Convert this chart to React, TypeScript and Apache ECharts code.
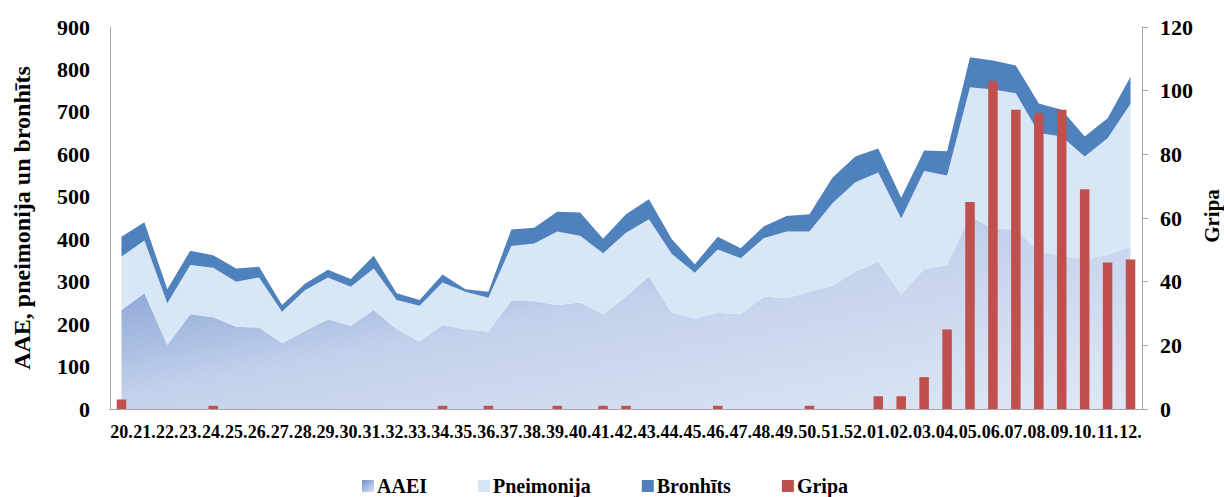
import React, { useEffect, useRef } from "react";
import * as echarts from "echarts";

const weeks = [
  "20.", "21.", "22.", "23.", "24.", "25.", "26.", "27.", "28.", "29.", "30.", "31.", "32.", "33.", "34.", "35.",
  "36.", "37.", "38.", "39.", "40.", "41.", "42.", "43.", "44.", "45.", "46.", "47.", "48.", "49.", "50.", "51.",
  "52.", "01.", "02.", "03.", "04.", "05.", "06.", "07.", "08.", "09.", "10.", "11.", "12.",
];

const aaei = [
  233, 273, 151, 223, 216, 194, 192, 155, 184, 211, 196, 233, 188, 159, 198, 188, 182,
  255, 254, 245, 251, 223, 265, 312, 227, 213, 227, 223, 265, 261, 276,
  290, 324, 347, 270, 330, 339, 453, 426, 422, 371, 361, 353, 363, 382,
];

const pneimonija = [
  126, 124, 98, 116, 117, 106, 118, 74, 96, 99, 92, 98, 69, 84, 100, 88, 80,
  129, 136, 173, 157, 144, 150, 135, 138, 108, 149, 132, 137, 157, 142,
  195, 210, 210, 179, 231, 211, 305, 327, 322, 279, 281, 242, 275, 337,
];

const bronhits = [
  47, 43, 33, 34, 29, 31, 25, 16, 15, 18, 18, 30, 16, 14, 19, 6, 14,
  39, 37, 47, 55, 34, 44, 47, 35, 20, 30, 24, 28, 37, 41,
  60, 61, 57, 49, 48, 57, 71, 68, 65, 70, 63, 47, 47, 64,
];

const gripa = [
  3, 0, 0, 0, 1, 0, 0, 0, 0, 0, 0, 0, 0, 0, 1, 0, 1,
  0, 0, 1, 0, 1, 1, 0, 0, 0, 1, 0, 0, 0, 1,
  0, 0, 4, 4, 10, 25, 65, 103, 94, 93, 94, 69, 46, 47,
];

const FONT = '"Liberation Serif", "Times New Roman", serif';

export default function App() {
  const ref = useRef<HTMLDivElement>(null);
  useEffect(() => {
    if (!ref.current) return;
    const chart = echarts.init(ref.current, null, { renderer: "svg" });
    const aaeiGrad = new echarts.graphic.LinearGradient(0, 0, 1, 1, [
      { offset: 0, color: "#86a3d5" },
      { offset: 0.2, color: "#8fa9d7" },
      { offset: 0.47, color: "#c3d1ec" },
      { offset: 1, color: "#e0e8f5" },
    ]);
    const legendGrad = new echarts.graphic.LinearGradient(0, 0, 1, 1, [
      { offset: 0, color: "#6f8fcc" },
      { offset: 1, color: "#dde6f5" },
    ]);
    const axisLine = { show: true, lineStyle: { color: "#a6a6a6", width: 1 } };
    chart.setOption({
      animation: false,
      textStyle: { fontFamily: FONT },
      grid: { left: 110, right: 82, top: 27, bottom: 88, containLabel: false, outerBoundsMode: "none" },
      graphic: [
        {
          type: "text",
          x: 1212,
          y: 216,
          rotation: Math.PI / 2,
          style: {
            text: "Gripa",
            fontFamily: FONT,
            fontSize: 21,
            fontWeight: "bold",
            fill: "#000",
            align: "center",
            verticalAlign: "middle",
          },
        },
      ],
      legend: {
        left: 357,
        top: 471,
        itemWidth: 12,
        itemHeight: 12,
        itemGap: 51,
        icon: "rect",
        textStyle: {
          fontFamily: FONT,
          fontSize: 20,
          lineHeight: 20,
          fontWeight: "bold",
          color: "#000",
          padding: [0, 0, 0, -2],
        },
        data: [
          { name: "AAEI", itemStyle: { color: legendGrad } },
          { name: "Pneimonija", itemStyle: { color: "#d6e6f7" } },
          { name: "Bronhīts", itemStyle: { color: "#4f81bd" } },
          { name: "Gripa", itemStyle: { color: "#c0504d" } },
        ],
      },
      xAxis: {
        type: "category",
        data: weeks,
        boundaryGap: true,
        axisLine,
        axisTick: { show: false },
        axisLabel: {
          interval: 0,
          margin: 14,
          fontFamily: FONT,
          fontSize: 18,
          fontWeight: "bold",
          color: "#000",
        },
        splitLine: { show: false },
      },
      yAxis: [
        {
          type: "value",
          min: 0,
          max: 900,
          interval: 100,
          axisLine,
          axisTick: { show: false },
          splitLine: { show: false },
          axisLabel: { margin: 20, fontFamily: FONT, fontSize: 22, fontWeight: "bold", color: "#000" },
          name: "AAE, pneimonija un bronhīts",
          nameLocation: "middle",
          nameRotate: 90,
          nameGap: 76,
          nameTextStyle: { fontFamily: FONT, fontSize: 24, fontWeight: "bold", color: "#000" },
        },
        {
          type: "value",
          min: 0,
          max: 120,
          interval: 20,
          position: "right",
          axisLine,
          axisTick: { show: true, length: 6, lineStyle: { color: "#a6a6a6" } },
          splitLine: { show: false },
          axisLabel: { margin: 18, fontFamily: FONT, fontSize: 22, fontWeight: "bold", color: "#000" },
        },
      ],
      series: [
        {
          name: "AAEI",
          type: "line",
          stack: "total",
          data: aaei,
          symbol: "none",
          z: 2,
          lineStyle: { width: 0 },
          itemStyle: { color: legendGrad },
          areaStyle: { color: aaeiGrad, opacity: 1 },
        },
        {
          name: "Pneimonija",
          type: "line",
          stack: "total",
          data: pneimonija,
          symbol: "none",
          z: 2,
          lineStyle: { width: 0 },
          itemStyle: { color: "#d6e6f7" },
          areaStyle: { color: "#d8e7f6", opacity: 1 },
        },
        {
          name: "Bronhīts",
          type: "line",
          stack: "total",
          data: bronhits,
          symbol: "none",
          z: 2,
          lineStyle: { width: 0 },
          itemStyle: { color: "#4f81bd" },
          areaStyle: { color: "#4f81bd", opacity: 1 },
        },
        {
          name: "Gripa",
          type: "bar",
          yAxisIndex: 1,
          data: gripa,
          barWidth: 9.5,
          z: 10,
          itemStyle: { color: "#c0504d" },
        },
      ],
    });
    return () => chart.dispose();
  }, []);
  return <div ref={ref} style={{ width: 1224, height: 497, position: "absolute", left: 0, top: 0 }} />;
}
